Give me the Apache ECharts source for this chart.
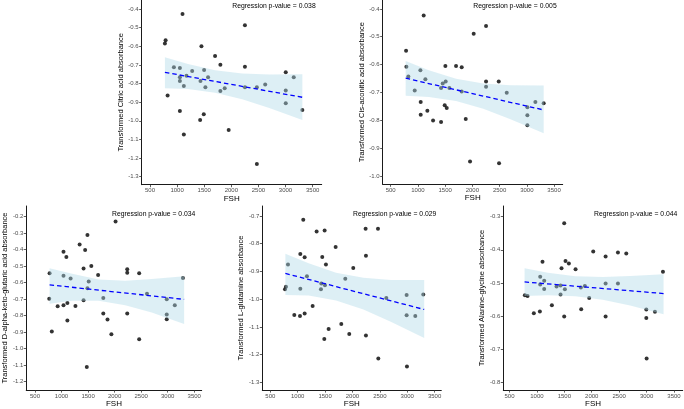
<!DOCTYPE html>
<html><head><meta charset="utf-8">
<script src="https://cdn.jsdelivr.net/npm/echarts@6/dist/echarts.min.js"></script>
<style>html,body{margin:0;padding:0;background:#fff}#c{width:684px;height:409px}</style>
</head><body><div id="c"></div><script>
// ---------- data ----------
const xTicks = [500, 1000, 1500, 2000, 2500, 3000, 3500];
const ribbonX = [775, 1200, 1700, 2200, 2700, 3310];
const fitX = [775, 3310];

const yTitles = [
  'Transformed Citric acid absorbance',
  'Transformed Cis-aconitic acid absorbance',
  'Transformed D-alpha-keto-glutaric acid absorbance',
  'Transformed L-glutamine absorbance',
  'Transformed Alanine-glycine absorbance'
];
const pValues = ['0.038', '0.005', '0.034', '0.029', '0.044'];

const yTicks1 = [-1.3, -1.2, -1.1, -1.0, -0.9, -0.8, -0.7, -0.6, -0.5, -0.4];
const yTicks2 = [-1.0, -0.9, -0.8, -0.7, -0.6, -0.5, -0.4];
const yTicks3 = [-1.2, -1.1, -1.0, -0.9, -0.8, -0.7, -0.6, -0.5, -0.4, -0.3, -0.2];
const yTicks4 = [-1.3, -1.2, -1.1, -1.0, -0.9, -0.8, -0.7];
const yTicks5 = [-0.8, -0.7, -0.6, -0.5, -0.4, -0.3];

// Citric acid
const pts1 = [[775,-0.586],[788,-0.568],[825,-0.865],[941,-0.713],[1051,-0.717],[1051,-0.767],[1051,-0.786],[1051,-0.948],
  [1100,-0.427],[1124,-0.813],[1124,-1.073],[1173,-0.758],[1278,-0.733],[1431,-0.786],[1425,-0.996],[1449,-0.600],
  [1498,-0.727],[1492,-0.965],[1522,-0.820],[1571,-0.767],[1700,-0.652],[1798,-0.699],[1798,-0.840],[1878,-0.826],
  [1951,-1.050],[2251,-0.488],[2251,-0.710],[2251,-0.820],[2471,-1.232],[2471,-0.820],[2625,-0.806],[3004,-0.740],
  [3004,-0.837],[3004,-0.906],[3151,-0.767],[3310,-0.942]];
const upper1 = [-0.659, -0.695, -0.729, -0.746, -0.752, -0.750];
const lower1 = [-0.826, -0.830, -0.849, -0.884, -0.932, -0.996];
const fit1 = [-0.740, -0.874];

// Cis-aconitic acid
const pts2 = [[782,-0.550],[788,-0.608],[824,-0.643],[941,-0.693],[1045,-0.620],[1051,-0.734],[1051,-0.780],[1106,-0.424],
  [1137,-0.653],[1173,-0.766],[1278,-0.801],[1425,-0.806],[1425,-0.684],[1455,-0.668],[1492,-0.746],[1504,-0.605],
  [1510,-0.661],[1529,-0.756],[1578,-0.684],[1700,-0.605],[1804,-0.610],[1804,-0.697],[1878,-0.795],[1957,-0.948],
  [2024,-0.489],[2251,-0.461],[2251,-0.661],[2251,-0.680],[2484,-0.661],[2490,-0.954],[2631,-0.701],[3010,-0.753],
  [3010,-0.782],[3010,-0.818],[3157,-0.734],[3310,-0.739]];
const upper2 = [-0.587, -0.620, -0.6505, -0.6675, -0.6745, -0.6755];
const lower2 = [-0.7115, -0.716, -0.7305, -0.7585, -0.7963, -0.847];
const fit2 = [-0.649, -0.763];

// D-alpha-keto-glutaric acid
const pts3 = [[768,-0.698],[775,-0.543],[817,-0.897],[927,-0.744],[1037,-0.413],[1037,-0.738],[1037,-0.559],[1091,-0.445],
  [1110,-0.724],[1110,-0.830],[1171,-0.575],[1262,-0.742],[1341,-0.369],[1415,-0.515],[1415,-0.708],[1445,-0.403],
  [1488,-0.312],[1488,-0.634],[1476,-1.112],[1512,-0.594],[1561,-0.499],[1689,-0.555],[1787,-0.694],[1787,-0.788],
  [1866,-0.824],[1939,-0.913],[2018,-0.230],[2238,-0.519],[2238,-0.541],[2238,-0.788],[2463,-0.543],[2463,-0.943],
  [2610,-0.668],[2982,-0.702],[2982,-0.794],[2982,-0.822],[3134,-0.738],[3287,-0.573]];
const upper3 = [-0.514, -0.547, -0.581, -0.589, -0.579, -0.562];
const lower3 = [-0.728, -0.710, -0.711, -0.738, -0.782, -0.852];
const fit3 = [-0.614, -0.702];

// L-glutamine
const pts4 = [[768,-0.964],[786,-0.955],[823,-0.875],[938,-1.057],[1048,-0.837],[1048,-0.962],[1042,-1.060],[1102,-0.714],
  [1127,-0.849],[1127,-1.051],[1169,-0.917],[1273,-1.024],[1346,-0.756],[1425,-0.964],[1431,-0.943],[1449,-0.848],
  [1486,-1.143],[1492,-0.752],[1498,-0.950],[1516,-0.875],[1565,-1.107],[1693,-0.812],[1796,-1.089],[1869,-0.926],
  [1942,-1.125],[2015,-0.887],[2240,-0.746],[2246,-0.843],[2246,-1.131],[2466,-0.746],[2472,-1.214],[2618,-0.996],
  [2989,-0.985],[2989,-1.058],[2995,-1.242],[3147,-1.060],[3293,-0.983]];
const upper4 = [-0.836, -0.870, -0.9045, -0.923, -0.9305, -0.931];
const lower4 = [-0.985, -0.987, -1.0045, -1.037, -1.081, -1.140];
const fit4 = [-0.907, -1.037];

// Alanine-glycine
const pts5 = [[780,-0.537],[829,-0.539],[944,-0.591],[1060,-0.481],[1060,-0.505],[1054,-0.586],[1102,-0.436],[1133,-0.493],
  [1133,-0.518],[1273,-0.567],[1358,-0.511],[1431,-0.535],[1431,-0.508],[1449,-0.456],[1498,-0.320],[1498,-0.601],
  [1510,-0.519],[1522,-0.434],[1583,-0.441],[1705,-0.459],[1802,-0.514],[1808,-0.579],[1875,-0.509],[1954,-0.545],
  [2027,-0.405],[2253,-0.420],[2253,-0.502],[2253,-0.601],[2478,-0.408],[2478,-0.502],[2630,-0.411],[2995,-0.580],
  [2995,-0.606],[3001,-0.728],[3153,-0.587],[3299,-0.466]];
const upper5 = [-0.456, -0.469, -0.480, -0.482, -0.479, -0.474];
const lower5 = [-0.539, -0.537, -0.540, -0.551, -0.568, -0.594];
const fit5 = [-0.497, -0.532];

// ---------- layout / style ----------
const panels = [
  {pts: pts1, up: upper1, lo: lower1, fit: fit1, yTicks: yTicks1,
   grid: {left: 141.7, top: 0, width: 180, height: 184.7}, xr: [347, 3667], yr: [-1.343, -0.352], yGap: 11, pv: [274, 6]},
  {pts: pts2, up: upper2, lo: lower2, fit: fit2, yTicks: yTicks2,
   grid: {left: 382.7, top: 0, width: 180, height: 184.3}, xr: [353, 3659], yr: [-1.030, -0.368], yGap: 12, pv: [515, 6]},
  {pts: pts3, up: upper3, lo: lower3, fit: fit3, yTicks: yTicks3,
   grid: {left: 21, top: 206, width: 180.7, height: 186.7}, xr: [335, 3641], yr: [-1.252, -0.136], yGap: 10.5, pv: [153.7, 214.5]},
  {pts: pts4, up: upper4, lo: lower4, fit: fit4, yTicks: yTicks4,
   grid: {left: 262.3, top: 206, width: 179, height: 185.7}, xr: [354, 3622], yr: [-1.3275, -0.664], yGap: 12.5, pv: [394.7, 214.3]},
  {pts: pts5, up: upper5, lo: lower5, fit: fit5, yTicks: yTicks5,
   grid: {left: 503.3, top: 206, width: 179.4, height: 185.7}, xr: [387, 3659], yr: [-0.823, -0.268], yGap: 12.5, pv: [635.7, 214.3]}
];

const FONT = 'Liberation Sans, Arial, sans-serif';
const axisLine = {show: true, lineStyle: {color: '#1a1a1a', width: 1}};
const axisTick = (vals) => ({show: true, length: 2.5, customValues: vals, lineStyle: {color: '#333', width: 0.8}});
const tickLabel = (vals, fmt) => ({customValues: vals, formatter: fmt, color: '#4d4d4d', fontSize: 6, fontFamily: FONT, margin: 3});

const option = {
  animation: false,
  backgroundColor: '#fff',
  grid: [], xAxis: [], yAxis: [], series: [], graphic: []
};

panels.forEach((p, i) => {
  option.grid.push(Object.assign({containLabel: false}, p.grid));
  option.xAxis.push({
    type: 'value', gridIndex: i, min: p.xr[0], max: p.xr[1],
    axisLine, axisTick: axisTick(xTicks),
    axisLabel: tickLabel(xTicks, v => String(Math.round(v))),
    splitLine: {show: false},
    name: 'FSH', nameLocation: 'middle', nameGap: 8.5,
    nameTextStyle: {color: '#000', fontSize: 8, fontFamily: FONT, verticalAlign: 'top'}
  });
  option.yAxis.push({
    type: 'value', gridIndex: i, min: p.yr[0], max: p.yr[1],
    axisLine, axisTick: axisTick(p.yTicks),
    axisLabel: tickLabel(p.yTicks, v => v.toFixed(1)),
    splitLine: {show: false},
    name: yTitles[i], nameLocation: 'middle', nameGap: p.yGap,
    nameTextStyle: {color: '#000', fontSize: 7.5, fontFamily: FONT}
  });
  option.series.push({
    type: 'scatter', xAxisIndex: i, yAxisIndex: i, z: 1,
    symbol: 'circle', symbolSize: 4, itemStyle: {color: '#000'},
    data: p.pts, silent: true
  });
  const up = p.up, lo = p.lo;
  option.series.push({
    type: 'custom', xAxisIndex: i, yAxisIndex: i, z: 2, silent: true,
    data: [[ribbonX[0], up[0]]],
    renderItem: (params, api) => {
      const poly = [];
      for (let k = 0; k < ribbonX.length; k++) poly.push(api.coord([ribbonX[k], up[k]]));
      for (let k = ribbonX.length - 1; k >= 0; k--) poly.push(api.coord([ribbonX[k], lo[k]]));
      return {type: 'polygon', shape: {points: poly}, style: {fill: 'rgba(173,216,230,0.42)', stroke: null}};
    }
  });
  option.series.push({
    type: 'line', xAxisIndex: i, yAxisIndex: i, z: 3, silent: true,
    symbol: 'none', data: [[fitX[0], p.fit[0]], [fitX[1], p.fit[1]]],
    lineStyle: {color: '#0000ff', width: 1.3, type: [4.5, 3]}
  });
  option.graphic.push({
    type: 'text', x: p.pv[0], y: p.pv[1], z: 10,
    style: {text: 'Regression p-value = ' + pValues[i], fill: '#000', fontSize: 6.8, fontFamily: FONT,
            align: 'center', verticalAlign: 'middle', textAlign: 'center', textVerticalAlign: 'middle'}
  });
});

const chart = echarts.init(document.getElementById('c'), null, {renderer: 'canvas'});
chart.setOption(option);
</script></body></html>
